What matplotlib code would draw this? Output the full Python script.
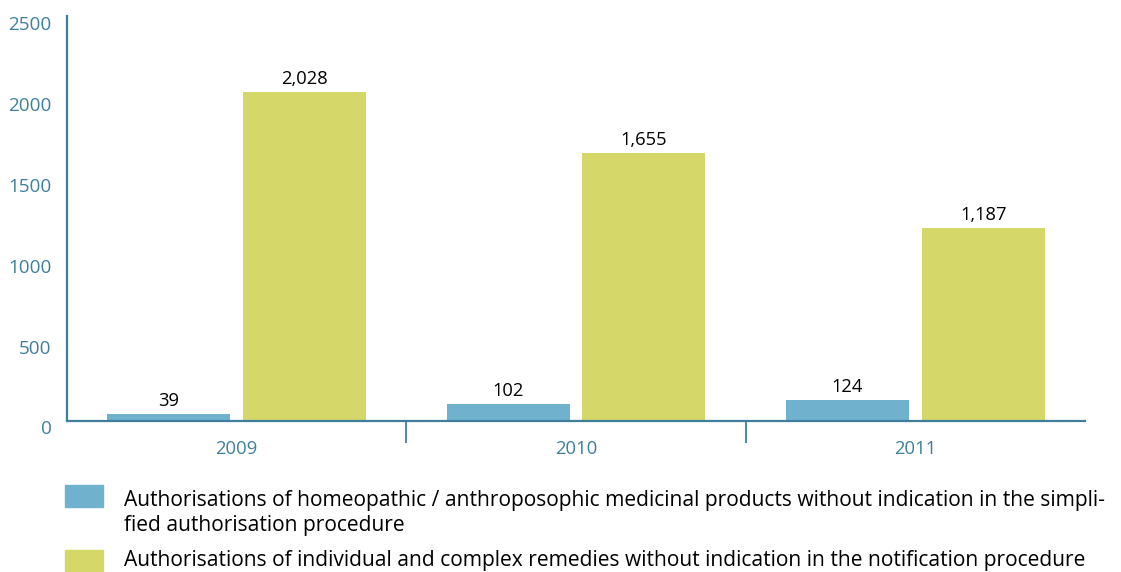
import matplotlib
matplotlib.use("Agg")
import matplotlib.pyplot as plt
import matplotlib.transforms as mtransforms
from matplotlib.patches import Rectangle

years = ["2009", "2010", "2011"]
homeopathic = [39, 102, 124]
individual = [2028, 1655, 1187]
legend_labels = [
    "Authorisations of homeopathic / anthroposophic medicinal products without indication in the simpli-\nfied authorisation procedure",
    "Authorisations of individual and complex remedies without indication in the notification procedure",
]
yticks = [0, 500, 1000, 1500, 2000, 2500]

BLUE = "#70b1ce"
GREEN = "#d5d769"
AXIS = "#3f7f9b"
FONT = "Open Sans"

plt.rcParams["font.family"] = [FONT, "DejaVu Sans"]

fig = plt.figure(figsize=(11.21, 5.72), dpi=100)
ax = fig.add_axes([67 / 1121, 1 - 420.5 / 572, (1085 - 67) / 1121, 404.5 / 572])

x = list(range(len(years)))
w = 0.363
xb = [i - 0.2 for i in x]
xg = [i + 0.2 for i in x]
b1 = ax.bar(xb, homeopathic, width=w, color=BLUE, zorder=2)
b2 = ax.bar(xg, individual, width=w, color=GREEN, zorder=2)

for bars, vals in ((b1, homeopathic), (b2, individual)):
    for r, v in zip(bars, vals):
        ax.annotate(f"{v:,}", (r.get_x() + r.get_width() / 2, v), xytext=(0, 3),
                    textcoords="offset points", ha="center", va="bottom",
                    fontsize=13.2, color="black")

ax.set_xlim(-0.5, len(years) - 0.5)
ax.set_ylim(0, 2500)

for s in ("top", "right"):
    ax.spines[s].set_visible(False)
for s in ("left", "bottom"):
    ax.spines[s].set_color(AXIS)
    ax.spines[s].set_linewidth(1.6)

ax.set_yticks(yticks)
ax.set_yticklabels([str(t) for t in yticks])
ax.tick_params(axis="y", length=0, pad=11, labelsize=13.6, labelcolor=AXIS)
offset = mtransforms.ScaledTranslation(0, -7 / 100, fig.dpi_scale_trans)
for lab in ax.get_yticklabels():
    lab.set_transform(lab.get_transform() + offset)
    lab.set_horizontalalignment("right")

ax.set_xticks([i + 0.5 for i in x[:-1]])
ax.set_xticklabels([])
ax.tick_params(axis="x", which="major", length=15.5, width=1.3, color=AXIS, direction="out")
ax.set_xticks(x, minor=True)
ax.set_xticklabels(years, minor=True)
ax.tick_params(axis="x", which="minor", length=0, pad=14, labelsize=13.3, labelcolor=AXIS)

# legend (baseline refers to the last line of each label)
W, H = 1121, 572
entries = [(485, 531, legend_labels[0]), (550, 566, legend_labels[1])]
colors = [BLUE, GREEN]
for (ytop, ybase, lab), c in zip(entries, colors):
    fig.patches.append(Rectangle((65 / W, 1 - (ytop + 22) / H), 38 / W, 22 / H,
                                 transform=fig.transFigure, color=c, clip_on=False))
    fig.text(124 / W, 1 - ybase / H, lab, ha="left", va="baseline", fontsize=15.1,
             color="black", linespacing=1.22)

fig.savefig("out.png", dpi=100)
